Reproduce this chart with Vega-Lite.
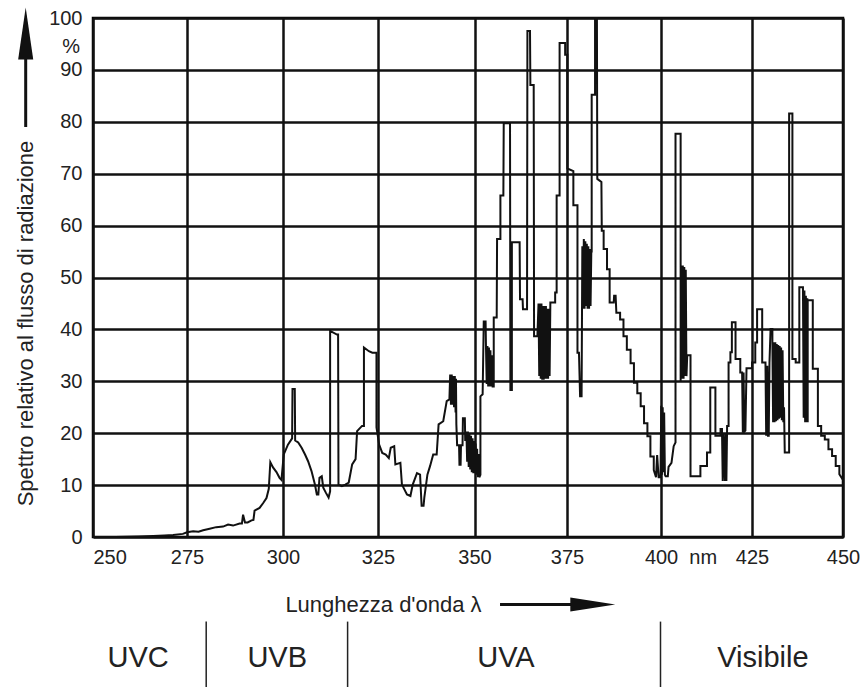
{
  "$schema": "https://vega.github.io/schema/vega-lite/v6.json",
  "width": 750,
  "height": 519,
  "autosize": {"type": "none"},
  "padding": {"left": 93, "top": 18, "right": 20, "bottom": 150},
  "background": "white",
  "config": {
    "view": {"stroke": "black", "strokeWidth": 2.5},
    "font": "Liberation Sans",
    "text": {"font": "Liberation Sans", "color": "#222"}
  },
  "datasets": {
    "spectrum": [
      {"nm":250,"v":0},{"nm":256,"v":0},{"nm":262,"v":0.1},{"nm":266,"v":0.2},{"nm":269,"v":0.3},{"nm":271.3,"v":0.4},{"nm":273.9,"v":0.6},{"nm":275,"v":0.9},{"nm":276.6,"v":1.1},{"nm":278,"v":1.0},{"nm":279.2,"v":1.3},{"nm":280.9,"v":1.6},{"nm":282.6,"v":1.9},{"nm":284.4,"v":2.0},{"nm":285.7,"v":2.4},{"nm":287,"v":2.2},{"nm":288.7,"v":2.6},{"nm":289.3,"v":2.6},{"nm":289.6,"v":4.3},{"nm":290.1,"v":2.8},{"nm":290.8,"v":2.8},{"nm":291.8,"v":3.2},{"nm":292.3,"v":3.3},{"nm":292.6,"v":5.1},{"nm":293.9,"v":5.6},{"nm":294.8,"v":6.5},{"nm":295.7,"v":7.5},{"nm":296.3,"v":9.3},{"nm":296.7,"v":14.4},{"nm":297.4,"v":13.4},{"nm":298.3,"v":12.5},{"nm":299.1,"v":11.4},{"nm":299.6,"v":11.0},{"nm":300.2,"v":15.9},{"nm":301.3,"v":17.8},{"nm":302.4,"v":19.0},{"nm":302.5,"v":28.5},{"nm":303.1,"v":28.5},{"nm":303.2,"v":18.6},{"nm":304.0,"v":18.2},{"nm":304.9,"v":17.2},{"nm":305.8,"v":15.9},{"nm":306.6,"v":14.6},{"nm":307.5,"v":12.7},{"nm":308.4,"v":10.1},{"nm":308.9,"v":8.2},{"nm":309.3,"v":8.2},{"nm":309.6,"v":11.4},{"nm":310.2,"v":11.7},{"nm":310.6,"v":9.5},{"nm":311.3,"v":8.5},{"nm":312.0,"v":7.6},{"nm":312.4,"v":8.8},{"nm":312.4,"v":39.7},{"nm":314.2,"v":39.0},{"nm":314.5,"v":39.0},{"nm":314.6,"v":10.1},{"nm":315.5,"v":9.8},{"nm":316.4,"v":10.1},{"nm":317.3,"v":10.5},{"nm":318.2,"v":14.0},{"nm":319.1,"v":15.0},{"nm":319.5,"v":20.4},{"nm":320.8,"v":21.4},{"nm":321.3,"v":21.4},{"nm":321.3,"v":36.5},{"nm":322.6,"v":35.8},{"nm":323.5,"v":35.5},{"nm":324.6,"v":35.5},{"nm":324.6,"v":21.1},{"nm":325.3,"v":17.8},{"nm":326.1,"v":16.2},{"nm":327.0,"v":15.9},{"nm":327.8,"v":15.2},{"nm":328.3,"v":17.2},{"nm":329.2,"v":17.5},{"nm":329.5,"v":14.0},{"nm":330.8,"v":14.3},{"nm":331.2,"v":10.1},{"nm":332.5,"v":8.2},{"nm":333.4,"v":7.9},{"nm":334.0,"v":10.1},{"nm":335.1,"v":12.3},{"nm":335.9,"v":12.0},{"nm":336.3,"v":6.0},{"nm":336.8,"v":6.0},{"nm":337.0,"v":7.6},{"nm":337.8,"v":12.0},{"nm":338.5,"v":13.7},{"nm":339.3,"v":15.9},{"nm":340.2,"v":15.9},{"nm":340.7,"v":21.7},{"nm":341.9,"v":22.3},{"nm":342.8,"v":26.2},{"nm":343.5,"v":26.5},
      {"nm":343.7,"v":31.3},{"nm":343.9,"v":25.5},{"nm":344.1,"v":31.3},{"nm":344.3,"v":25.5},{"nm":344.5,"v":31.0},{"nm":344.7,"v":25.0},{"nm":344.9,"v":31.0},{"nm":345.1,"v":24.0},{"nm":345.2,"v":30.5},{"nm":345.3,"v":21.7},
      {"nm":345.5,"v":17.7},{"nm":346.0,"v":17.7},{"nm":346.1,"v":13.9},{"nm":346.4,"v":13.9},{"nm":346.5,"v":17.7},{"nm":346.9,"v":17.7},{"nm":347.0,"v":22.9},{"nm":347.5,"v":22.9},{"nm":347.6,"v":18.5},
      {"nm":347.9,"v":20.3},{"nm":348.1,"v":14.5},{"nm":348.3,"v":20.3},{"nm":348.5,"v":13.5},{"nm":348.7,"v":20.0},{"nm":348.9,"v":13.0},{"nm":349.1,"v":19.5},{"nm":349.3,"v":12.5},{"nm":349.5,"v":19.0},{"nm":349.7,"v":12.3},{"nm":349.9,"v":18.5},{"nm":350.1,"v":12.3},{"nm":350.3,"v":18.0},{"nm":350.5,"v":12.0},{"nm":350.7,"v":17.0},{"nm":350.9,"v":11.5},{"nm":351.1,"v":16.0},{"nm":351.3,"v":11.5},{"nm":351.6,"v":12.0},
      {"nm":351.6,"v":27.1},{"nm":352.2,"v":27.5},{"nm":352.5,"v":41.5},{"nm":353.0,"v":41.5},{"nm":353.1,"v":36.8},{"nm":353.3,"v":29.5},{"nm":353.5,"v":36.8},{"nm":353.7,"v":29.0},{"nm":353.9,"v":36.5},{"nm":354.1,"v":29.0},{"nm":354.3,"v":36.0},{"nm":354.5,"v":29.0},{"nm":354.7,"v":35.0},{"nm":354.9,"v":29.0},{"nm":355.2,"v":29.0},
      {"nm":355.2,"v":42.3},{"nm":356.0,"v":42.3},{"nm":356.1,"v":57.4},{"nm":357.0,"v":57.4},{"nm":357.0,"v":65.8},{"nm":357.8,"v":65.8},{"nm":357.9,"v":79.7},{"nm":359.6,"v":79.7},{"nm":359.7,"v":28.3},{"nm":360.1,"v":28.3},{"nm":360.1,"v":56.8},{"nm":362.2,"v":56.8},{"nm":362.3,"v":45.8},{"nm":363.0,"v":45.8},{"nm":363.1,"v":43.9},{"nm":364.2,"v":43.9},{"nm":364.3,"v":97.5},{"nm":365.0,"v":97.5},{"nm":365.1,"v":87.1},{"nm":366.0,"v":87.1},{"nm":366.1,"v":38.7},{"nm":367.0,"v":38.7},
      {"nm":367.3,"v":45.0},{"nm":367.5,"v":31.0},{"nm":367.7,"v":45.0},{"nm":367.9,"v":30.5},{"nm":368.1,"v":45.0},{"nm":368.3,"v":30.3},{"nm":368.5,"v":44.5},{"nm":368.7,"v":30.3},{"nm":368.9,"v":44.5},{"nm":369.1,"v":30.5},{"nm":369.3,"v":44.5},{"nm":369.5,"v":30.5},{"nm":369.7,"v":44.0},{"nm":369.9,"v":30.5},{"nm":370.1,"v":44.0},{"nm":370.3,"v":31.0},{"nm":370.5,"v":45.2},
      {"nm":371.8,"v":45.2},{"nm":371.8,"v":47.1},{"nm":372.2,"v":47.1},{"nm":372.2,"v":65.8},{"nm":373.0,"v":65.8},{"nm":373.0,"v":95.2},{"nm":374.5,"v":95.2},{"nm":374.5,"v":92.9},{"nm":375.1,"v":92.9},{"nm":375.1,"v":71.0},{"nm":376.7,"v":70.5},{"nm":376.7,"v":63.9},{"nm":377.8,"v":63.9},{"nm":377.8,"v":35.5},{"nm":378.2,"v":35.5},{"nm":378.5,"v":27.1},{"nm":378.9,"v":27.1},
      {"nm":379.1,"v":56.0},{"nm":379.3,"v":44.0},{"nm":379.5,"v":57.4},{"nm":379.7,"v":44.0},{"nm":379.9,"v":57.0},{"nm":380.1,"v":44.5},{"nm":380.3,"v":56.5},{"nm":380.5,"v":44.0},{"nm":380.7,"v":56.0},{"nm":380.9,"v":44.0},{"nm":381.1,"v":55.5},{"nm":381.3,"v":44.5},{"nm":381.5,"v":55.0},{"nm":381.6,"v":55.0},
      {"nm":381.6,"v":85.2},{"nm":382.5,"v":85.2},{"nm":382.5,"v":100},{"nm":383.0,"v":100},{"nm":383.1,"v":69.0},{"nm":384.2,"v":68.4},{"nm":384.3,"v":59.0},{"nm":384.8,"v":59.0},{"nm":384.8,"v":55.5},{"nm":385.7,"v":55.5},{"nm":385.7,"v":51.6},{"nm":386.4,"v":51.6},{"nm":386.4,"v":45.2},{"nm":387.5,"v":45.2},{"nm":387.6,"v":46.5},{"nm":388.0,"v":46.5},{"nm":388.2,"v":43.2},{"nm":389.2,"v":43.2},{"nm":389.2,"v":41.9},{"nm":390.1,"v":41.9},{"nm":390.1,"v":38.7},{"nm":391.0,"v":38.7},{"nm":391.0,"v":36.1},{"nm":392.0,"v":36.1},{"nm":392.0,"v":33.5},{"nm":392.9,"v":33.5},{"nm":392.9,"v":29.7},{"nm":393.8,"v":29.7},{"nm":393.8,"v":27.7},{"nm":394.7,"v":27.7},{"nm":394.7,"v":25.2},{"nm":395.6,"v":25.2},{"nm":395.6,"v":21.9},{"nm":396.5,"v":21.9},{"nm":396.5,"v":19.4},{"nm":397.3,"v":19.4},{"nm":397.3,"v":15.5},{"nm":398.2,"v":15.5},{"nm":398.2,"v":12.9},{"nm":398.8,"v":11.5},{"nm":399.1,"v":15.8},{"nm":399.5,"v":11.5},{"nm":400.0,"v":11.5},
      {"nm":400.2,"v":25.3},{"nm":400.4,"v":12.0},{"nm":400.6,"v":25.0},{"nm":400.8,"v":12.5},{"nm":401.0,"v":24.0},{"nm":401.2,"v":12.0},{"nm":401.4,"v":11.7},
      {"nm":402.0,"v":11.7},{"nm":402.2,"v":13.5},{"nm":403.0,"v":14.3},{"nm":403.6,"v":17.5},{"nm":404.1,"v":18.2},{"nm":404.1,"v":77.7},{"nm":405.5,"v":77.7},
      {"nm":405.5,"v":30.0},{"nm":405.7,"v":52.3},{"nm":405.9,"v":30.5},{"nm":406.1,"v":52.3},{"nm":406.3,"v":30.5},{"nm":406.5,"v":52.0},{"nm":406.7,"v":31.0},{"nm":406.9,"v":51.5},{"nm":407.1,"v":31.0},{"nm":407.3,"v":35.0},
      {"nm":408.2,"v":35.0},{"nm":408.2,"v":11.7},{"nm":410.9,"v":11.7},{"nm":410.9,"v":13.7},{"nm":412.7,"v":13.7},{"nm":412.7,"v":16.3},{"nm":413.6,"v":16.3},{"nm":413.6,"v":28.8},{"nm":415.0,"v":28.8},{"nm":415.0,"v":19.5},{"nm":416.4,"v":19.5},{"nm":416.4,"v":20.8},{"nm":416.8,"v":20.8},{"nm":417.0,"v":10.8},{"nm":417.3,"v":20.0},{"nm":417.6,"v":10.8},{"nm":417.9,"v":20.0},{"nm":418.0,"v":10.8},{"nm":418.2,"v":21.4},{"nm":418.6,"v":21.4},{"nm":418.6,"v":33.6},{"nm":419.1,"v":33.6},{"nm":419.1,"v":35.6},{"nm":419.5,"v":35.6},{"nm":419.5,"v":41.4},{"nm":420.5,"v":41.4},{"nm":420.5,"v":34.3},{"nm":421.8,"v":34.3},{"nm":421.8,"v":31.7},{"nm":422.3,"v":31.7},{"nm":422.5,"v":20.1},{"nm":422.7,"v":31.7},{"nm":422.9,"v":20.3},{"nm":423.2,"v":20.5},{"nm":423.5,"v":32.5},{"nm":425.0,"v":32.5},{"nm":425.0,"v":33.6},{"nm":425.9,"v":33.6},{"nm":425.9,"v":37.5},{"nm":426.4,"v":37.5},{"nm":426.4,"v":43.9},{"nm":427.8,"v":43.9},{"nm":427.8,"v":33.6},{"nm":428.7,"v":33.6},{"nm":428.9,"v":19.5},{"nm":429.2,"v":33.0},{"nm":429.4,"v":19.5},{"nm":429.6,"v":19.5},{"nm":429.8,"v":33.6},{"nm":430.1,"v":40.1},{"nm":430.6,"v":40.1},{"nm":430.6,"v":37.5},
      {"nm":430.8,"v":22.1},{"nm":431.0,"v":37.5},{"nm":431.2,"v":22.1},{"nm":431.4,"v":37.5},{"nm":431.6,"v":22.3},{"nm":431.8,"v":37.2},{"nm":432.0,"v":22.5},{"nm":432.2,"v":37.0},{"nm":432.4,"v":22.8},{"nm":432.6,"v":36.8},{"nm":432.8,"v":23.0},{"nm":433.0,"v":36.5},{"nm":433.2,"v":22.5},{"nm":433.4,"v":36.0},{"nm":433.6,"v":22.1},{"nm":433.8,"v":25.0},{"nm":434.0,"v":16.3},
      {"nm":435.2,"v":16.3},{"nm":435.2,"v":81.6},{"nm":436.1,"v":81.6},{"nm":436.1,"v":34.3},{"nm":437.0,"v":34.3},{"nm":437.0,"v":33.6},{"nm":438.0,"v":33.6},{"nm":438.0,"v":48.1},{"nm":439.0,"v":48.1},
      {"nm":439.2,"v":23.0},{"nm":439.4,"v":47.5},{"nm":439.6,"v":22.1},{"nm":439.8,"v":46.5},{"nm":440.0,"v":22.1},{"nm":440.2,"v":46.0},{"nm":440.3,"v":22.1},{"nm":440.3,"v":45.6},
      {"nm":441.7,"v":45.6},{"nm":441.7,"v":32.4},{"nm":443.1,"v":32.4},{"nm":443.1,"v":21.4},{"nm":444.0,"v":21.4},{"nm":444.0,"v":19.5},{"nm":445.0,"v":19.5},{"nm":445.0,"v":18.8},{"nm":446.0,"v":18.8},{"nm":446.0,"v":16.9},{"nm":447.0,"v":16.9},{"nm":447.0,"v":15.6},{"nm":448.0,"v":15.6},{"nm":448.0,"v":13.7},{"nm":449.0,"v":13.7},{"nm":449.0,"v":12.1},{"nm":450.0,"v":11.0}
    ],
    "bandEdges": [{"nm": 280}, {"nm": 317}, {"nm": 400}],
    "bands": [
      {"band": "UVC", "nm": 262},
      {"band": "UVB", "nm": 298.5},
      {"band": "UVA", "nm": 358.5},
      {"band": "Visibile", "nm": 428}
    ],
    "unit": [{"t": "%"}],
    "one": [{"k": 1}]
  },
  "layer": [
    {
      "data": {"name": "spectrum"},
      "mark": {"type": "line", "color": "#111", "strokeWidth": 2, "strokeJoin": "miter"},
      "encoding": {
        "x": {
          "field": "nm", "type": "quantitative",
          "scale": {"domain": [250, 275, 300, 325, 350, 375, 400, 425, 450], "range": [0, 94, 190, 285, 381.5, 474, 567.5, 659, 750], "nice": false, "zero": false},
          "axis": {
            "values": [250, 275, 300, 325, 350, 375, 400, 425, 450],
            "grid": true, "gridColor": "#111", "gridWidth": 2.5, "gridOpacity": 1,
            "ticks": false, "domain": false,
            "labelFont": "Liberation Sans", "labelFontSize": 20, "labelColor": "#222", "labelPadding": 10,
            "labelFlush": false, "labelOverlap": false, "labelBound": false,
            "labelExpr": "datum.value == 400 ? '400\u00a0\u00a0nm' : datum.label",
            "labelAlign": {"condition": {"test": "datum.value == 250", "value": "left"}, "value": "center"},
            "labelOffset": {"condition": {"test": "datum.value == 400", "value": 20}, "value": 0},
            "title": "Lunghezza d'onda λ",
            "titleFont": "Liberation Sans", "titleFontSize": 22, "titleFontWeight": "normal", "titleColor": "#222",
            "titleX": 290, "titleY": 67, "titleBaseline": "middle", "titleAlign": "center"
          }
        },
        "y": {
          "field": "v", "type": "quantitative",
          "scale": {"domain": [0, 100], "nice": false},
          "axis": {
            "values": [0, 10, 20, 30, 40, 50, 60, 70, 80, 90, 100],
            "grid": true, "gridColor": "#111", "gridWidth": 2.5, "gridOpacity": 1,
            "ticks": false, "domain": false,
            "labelFont": "Liberation Sans", "labelFontSize": 20, "labelColor": "#222", "labelPadding": 11,
            "labelFlush": false, "labelOverlap": false, "labelBound": false,
            "title": "Spettro relativo al flusso di radiazione",
            "titleFont": "Liberation Sans", "titleFontSize": 22, "titleFontWeight": "normal", "titleColor": "#222",
            "titleX": -68, "titleY": 305, "titleBaseline": "middle", "titleAlign": "center", "titleAngle": -90
          }
        },
        "order": {"value": null}
      }
    },
    {
      "data": {"name": "unit"},
      "mark": {"type": "text", "align": "right", "baseline": "middle", "dx": -13, "fontSize": 20, "color": "#222"},
      "encoding": {
        "x": {"datum": 250, "type": "quantitative"},
        "y": {"datum": 94.5, "type": "quantitative"},
        "text": {"field": "t"}
      }
    },
    {
      "data": {"name": "one"},
      "mark": {"type": "rule", "color": "#111", "strokeWidth": 3},
      "encoding": {
        "x": {"datum": 232.1, "type": "quantitative"},
        "y": {"datum": 79, "type": "quantitative"},
        "y2": {"datum": 93}
      }
    },
    {
      "data": {"name": "one"},
      "mark": {"type": "point", "shape": "M0,-1L0.29,1L-0.29,1Z", "size": 2704, "filled": true, "color": "#111", "opacity": 1},
      "encoding": {
        "x": {"datum": 232.1, "type": "quantitative"},
        "y": {"datum": 97, "type": "quantitative"}
      }
    },
    {
      "data": {"name": "one"},
      "mark": {"type": "rule", "color": "#111", "strokeWidth": 3},
      "encoding": {
        "x": {"datum": 356.9, "type": "quantitative"},
        "x2": {"datum": 378},
        "y": {"datum": -13, "type": "quantitative"}
      }
    },
    {
      "data": {"name": "one"},
      "mark": {"type": "point", "shape": "M1,0L-1,-0.31L-1,0.31Z", "size": 2025, "filled": true, "color": "#111", "opacity": 1},
      "encoding": {
        "x": {"datum": 381.9, "type": "quantitative"},
        "y": {"datum": -13, "type": "quantitative"}
      }
    },
    {
      "data": {"name": "bandEdges"},
      "mark": {"type": "rule", "color": "#222", "strokeWidth": 1.5},
      "encoding": {
        "x": {"field": "nm", "type": "quantitative"},
        "y": {"datum": -16.3, "type": "quantitative"},
        "y2": {"datum": -29}
      }
    },
    {
      "data": {"name": "bands"},
      "mark": {"type": "text", "baseline": "middle", "align": "center", "fontSize": 29, "color": "#222"},
      "encoding": {
        "x": {"field": "nm", "type": "quantitative"},
        "y": {"datum": -23.3, "type": "quantitative"},
        "text": {"field": "band"}
      }
    }
  ]
}
